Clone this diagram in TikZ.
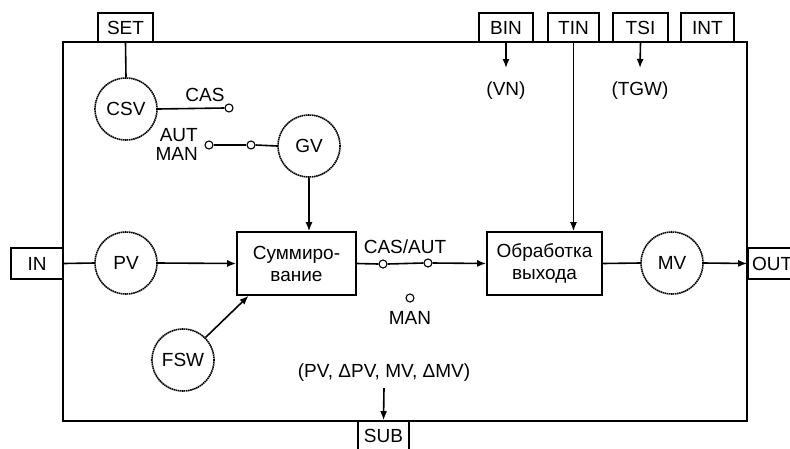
\documentclass[tikz,border=0pt]{standalone}
\usepackage{fontspec}
\setmainfont{Liberation Sans}
\usetikzlibrary{arrows.meta}
\begin{document}
\begin{tikzpicture}[x=1pt,y=-1pt,
  every node/.style={font=\fontsize{19}{21}\selectfont, inner sep=0pt},
  lw/.style={line width=1.6pt},
  tab/.style={draw, lw, fill=white, minimum height=29pt},
  circ/.style={draw, lw, dashed, dash pattern=on 1.5pt off 0.6pt, circle, minimum size=62pt},
  proc/.style={draw, lw, align=center, minimum width=119pt, minimum height=63pt},
  contact/.style={draw, line width=1.1pt, circle, minimum size=8pt, fill=white},
  arr/.style={lw, -{Latex[length=9pt,width=7pt]}},
  con/.style={lw}
]
\useasboundingbox (0,0) rectangle (790,448);
\clip (0,0) rectangle (790,448);
% main block
\node[draw, lw, minimum width=684pt, minimum height=379pt] (blk) at (405,231.5) {};
% tabs
\node[tab, minimum width=55pt] (set) at (125.5,27.5) {SET};
\node[tab, minimum width=54pt] (bin) at (506,27.5) {BIN};
\node[tab, minimum width=51pt] (tin) at (573.5,27.5) {TIN};
\node[tab, minimum width=55pt] (tsi) at (640.5,27.5) {TSI};
\node[tab, minimum width=53pt] (int) at (707.5,27.5) {INT};
\node[tab, minimum width=52pt, minimum height=31pt] (in) at (37,263.5) {IN};
\node[tab, minimum width=52pt, minimum height=31pt, text width=44pt] (out) at (774,263.5) {OUT};
\node[tab, minimum width=51pt, minimum height=30pt] (sub) at (383.5,436) {SUB};
% circles
\node[circ] (csv) at (126,109) {CSV};
\node[circ] (gv) at (309,146) {GV};
\node[circ] (pv) at (126,263) {PV};
\node[circ] (fsw) at (183,360) {FSW};
\node[circ] (mv) at (672,263) {MV};
% process boxes
\node[proc] (sum) at (296.5,263.5) {Суммиро-\\[1pt]вание};
\node[proc, minimum width=115pt] (obr) at (544.5,263.5) {Обработка\\[1pt]выхода};
% contacts
\node[contact] (ccas) at (229,108) {};
\node[contact] (caut) at (209,145) {};
\node[contact] (cmid) at (251,145) {};
\node[contact] (s1) at (383,264) {};
\node[contact] (s2) at (428,263) {};
\node[contact] (sman) at (410,298) {};
% labels
\node (lcas) at (205,95) {CAS};
\node[anchor=east] (laut) at (198,135) {AUT};
\node[anchor=east] (lman2) at (198,154) {MAN};
\node (lcasaut) at (405,247) {CAS/AUT};
\node (lman) at (410,318) {MAN};
\node (lvn) at (506,91) {(VN)};
\node (ltgw) at (640,91) {(TGW)};
\node (lsub) at (384,373) {(PV, ΔPV, MV, ΔMV)};
\coordinate (vnend) at (506,68);
\coordinate (tgwend) at (640,68);
% connectors
\draw[con] (set.south) -- (csv.north);
\draw[con] (csv.east) -- (ccas.west);
\draw[con] (caut.east) -- (cmid.west);
\draw[con] (cmid.east) -- (gv.west);
\draw[arr] (gv.south) -- (sum.north -| gv.south);
\draw[con] (in.east) -- (pv.west);
\draw[arr] (pv.east) -- (sum.west);
\draw[arr] (fsw.north east) -- (sum.214);
\draw[con] (sum.east) -- (s1.west);
\draw[con] (s1.east) -- (s2.west);
\draw[arr] (s2.east) -- (obr.west);
\draw[arr] (tin.south) -- (obr.north -| tin.south);
\draw[con] (obr.east) -- (mv.west);
\draw[arr] (mv.east) -- (out.west);
\draw[arr] (bin.south) -- (vnend);
\draw[arr] (tsi.south) -- (tgwend);
\draw[arr] (lsub.south) ++(0,6) -- (sub.north);
\end{tikzpicture}
\end{document}
